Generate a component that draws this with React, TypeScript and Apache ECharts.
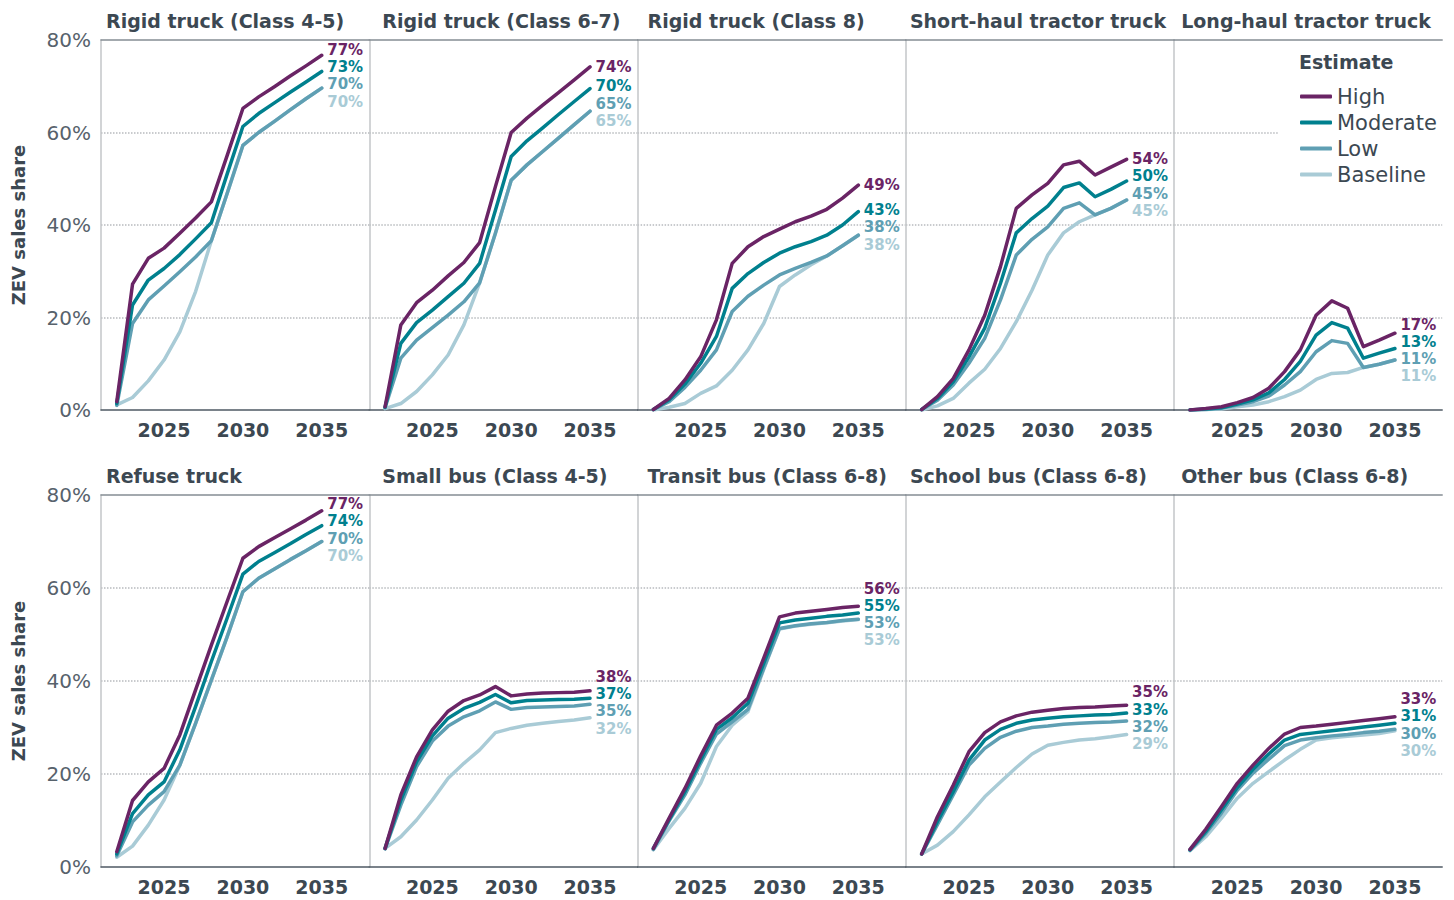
import React, { useEffect, useRef } from "react";
import * as echarts from "echarts";

const FONT = '"DejaVu Sans", Verdana, sans-serif';

const years = [2022, 2023, 2024, 2025, 2026, 2027, 2028, 2029, 2030, 2031, 2032, 2033, 2034, 2035];
const xTickLabels = [2025, 2030, 2035];
const estimates = ["High", "Moderate", "Low", "Baseline"];
const colors = ["#6a2465", "#00808e", "#5f9fb3", "#a9cbd6"];

const panelTitles = [
  "Rigid truck (Class 4-5)",
  "Rigid truck (Class 6-7)",
  "Rigid truck (Class 8)",
  "Short-haul tractor truck",
  "Long-haul tractor truck",
  "Refuse truck",
  "Small bus (Class 4-5)",
  "Transit bus (Class 6-8)",
  "School bus (Class 6-8)",
  "Other bus (Class 6-8)",
];

// Each panel: [High, Moderate, Low, Baseline]
const rigid45 = [
  [1.8, 27.2, 32.8, 35.0, 38.2, 41.5, 45.0, 55.0, 65.2, 67.7, 69.9, 72.2, 74.4, 76.7],
  [1.4, 22.7, 28.1, 30.6, 33.6, 37.0, 40.5, 51.0, 61.3, 64.1, 66.4, 68.7, 70.9, 73.2],
  [1.0, 18.7, 23.8, 26.8, 29.9, 33.1, 36.6, 46.8, 57.2, 60.0, 62.4, 64.9, 67.3, 69.6],
  [1.1, 2.7, 6.3, 10.8, 16.9, 25.6, 36.6, 46.8, 57.2, 60.0, 62.4, 64.9, 67.3, 69.6],
];
const rigid67 = [
  [0.7, 18.4, 23.2, 25.9, 29.0, 31.9, 36.2, 48.3, 60.0, 63.1, 65.9, 68.6, 71.4, 74.2],
  [0.6, 14.4, 18.9, 21.6, 24.5, 27.4, 31.7, 43.2, 54.8, 58.2, 61.0, 63.9, 66.7, 69.5],
  [0.5, 11.2, 15.1, 17.8, 20.5, 23.4, 27.5, 38.2, 49.7, 53.0, 55.9, 58.8, 61.7, 64.6],
  [0.3, 1.4, 4.0, 7.6, 11.9, 18.4, 27.5, 38.2, 49.7, 53.0, 55.9, 58.8, 61.7, 64.6],
];
const rigid8 = [
  [0.1, 2.5, 6.5, 11.5, 19.5, 31.7, 35.3, 37.5, 39.1, 40.7, 41.9, 43.4, 45.8, 48.6],
  [0.1, 2.2, 5.6, 10.1, 15.9, 26.3, 29.5, 31.9, 33.9, 35.3, 36.4, 37.8, 40.0, 42.9],
  [0.1, 1.8, 4.9, 8.6, 13.0, 21.3, 24.6, 27.0, 29.2, 30.6, 31.9, 33.3, 35.5, 37.8],
  [0.0, 0.6, 1.4, 3.6, 5.2, 8.6, 13.0, 18.7, 26.7, 29.2, 31.4, 33.3, 35.5, 37.8],
];
const shortHaul = [
  [0.1, 2.9, 6.8, 13.0, 20.5, 31.0, 43.6, 46.5, 49.0, 53.0, 53.8, 50.8, 52.5, 54.2],
  [0.1, 2.5, 6.1, 11.5, 17.7, 27.4, 38.3, 41.4, 44.1, 48.1, 49.1, 46.1, 47.7, 49.5],
  [0.1, 2.1, 5.4, 10.1, 15.5, 23.8, 33.5, 36.9, 39.6, 43.6, 44.8, 42.2, 43.6, 45.4],
  [0.0, 0.9, 2.5, 5.8, 8.8, 13.3, 19.1, 25.9, 33.5, 38.3, 40.7, 42.2, 43.6, 45.4],
];
const longHaul = [
  [0.0, 0.3, 0.7, 1.6, 2.7, 4.7, 8.3, 13.0, 20.5, 23.6, 22.0, 13.7, 15.1, 16.6],
  [0.0, 0.2, 0.5, 1.3, 2.2, 3.7, 6.6, 10.5, 16.2, 18.9, 17.7, 11.2, 12.3, 13.3],
  [0.0, 0.1, 0.4, 1.1, 1.8, 3.0, 5.4, 8.3, 12.6, 15.0, 14.4, 9.2, 9.9, 10.8],
  [0.0, 0.1, 0.2, 0.7, 1.1, 1.8, 2.9, 4.3, 6.6, 7.9, 8.1, 9.2, 9.9, 10.8],
];
const refuse = [
  [3.3, 14.3, 18.3, 21.2, 28.4, 38.1, 47.7, 57.1, 66.4, 68.9, 70.8, 72.7, 74.6, 76.6],
  [2.8, 11.5, 15.5, 18.3, 25.2, 34.5, 44.2, 53.5, 63.0, 65.7, 67.6, 69.5, 71.5, 73.4],
  [2.4, 9.7, 13.3, 16.2, 21.9, 30.9, 40.2, 49.5, 59.2, 62.1, 64.1, 66.1, 68.0, 70.0],
  [2.1, 4.5, 9.0, 14.4, 21.9, 30.9, 40.2, 49.5, 59.2, 62.1, 64.1, 66.1, 68.0, 70.0],
];
const smallBus = [
  [4.0, 15.5, 23.7, 29.5, 33.5, 35.8, 37.0, 38.8, 36.8, 37.2, 37.4, 37.5, 37.6, 37.9],
  [4.0, 14.4, 22.6, 28.2, 32.0, 34.1, 35.4, 37.1, 35.3, 35.8, 35.9, 36.0, 36.1, 36.3],
  [3.9, 13.3, 21.6, 27.1, 30.3, 32.3, 33.6, 35.5, 33.9, 34.3, 34.4, 34.5, 34.6, 35.0],
  [4.0, 6.5, 10.1, 14.4, 19.1, 22.3, 25.2, 28.9, 29.8, 30.5, 30.9, 31.3, 31.6, 32.1],
];
const transitBus = [
  [4.0, 10.5, 16.9, 23.9, 30.5, 33.1, 36.3, 44.9, 53.8, 54.6, 55.0, 55.4, 55.8, 56.1],
  [4.0, 10.2, 16.2, 23.0, 29.6, 32.1, 35.2, 43.8, 52.5, 53.1, 53.5, 53.9, 54.2, 54.6],
  [3.8, 9.9, 15.5, 22.3, 28.6, 31.2, 33.9, 42.7, 51.3, 51.9, 52.3, 52.6, 53.0, 53.3],
  [3.7, 8.3, 12.6, 18.0, 25.9, 30.5, 33.4, 42.5, 51.2, 51.8, 52.2, 52.5, 52.9, 53.2],
];
const schoolBus = [
  [2.8, 10.8, 17.6, 24.8, 28.9, 31.2, 32.5, 33.3, 33.7, 34.1, 34.3, 34.4, 34.6, 34.8],
  [2.8, 9.8, 16.2, 23.0, 27.3, 29.6, 30.9, 31.6, 32.0, 32.3, 32.5, 32.7, 32.8, 33.1],
  [2.8, 9.1, 15.5, 21.9, 25.5, 27.9, 29.2, 30.0, 30.3, 30.7, 30.9, 31.1, 31.2, 31.4],
  [2.8, 4.7, 7.6, 11.2, 15.1, 18.3, 21.4, 24.3, 26.2, 26.8, 27.3, 27.6, 28.0, 28.5],
];
const otherBus = [
  [3.8, 8.1, 13.0, 18.0, 21.9, 25.5, 28.6, 30.0, 30.3, 30.7, 31.1, 31.5, 31.9, 32.3],
  [3.7, 7.6, 12.3, 17.1, 21.0, 24.3, 27.3, 28.5, 28.9, 29.3, 29.7, 30.1, 30.5, 30.9],
  [3.6, 7.2, 11.6, 16.5, 20.2, 23.2, 26.1, 27.3, 27.8, 28.2, 28.5, 28.9, 29.2, 29.6],
  [3.5, 6.5, 10.5, 14.8, 18.0, 20.5, 23.0, 25.3, 27.3, 27.8, 28.1, 28.4, 28.7, 29.3],
];

const panelData = [rigid45, rigid67, rigid8, shortHaul, longHaul, refuse, smallBus, transitBus, schoolBus, otherBus];

// 2035 end-label values as printed
const endLabels = [
  [77, 73, 70, 70],
  [74, 70, 65, 65],
  [49, 43, 38, 38],
  [54, 50, 45, 45],
  [17, 13, 11, 11],
  [77, 74, 70, 70],
  [38, 37, 35, 32],
  [56, 55, 53, 53],
  [35, 33, 32, 29],
  [33, 31, 30, 30],
];

const titleOffsets = [5, 13, 10, 4, 7];

// cluster-based label de-overlap, in value units (descending values)
function spreadLabels(ends: number[], gap: number): number[] {
  let clusters = ends.map((v, i) => ({ ids: [i], mean: -v }));
  let merged = true;
  while (merged) {
    merged = false;
    for (let i = 0; i < clusters.length - 1; i++) {
      const a = clusters[i];
      const b = clusters[i + 1];
      const aBottom = a.mean + ((a.ids.length - 1) * gap) / 2;
      const bTop = b.mean - ((b.ids.length - 1) * gap) / 2;
      if (bTop - aBottom < gap) {
        const ids = a.ids.concat(b.ids);
        const mean = ids.reduce((s, id) => s - ends[id], 0) / ids.length;
        clusters.splice(i, 2, { ids, mean });
        merged = true;
        break;
      }
    }
  }
  const out: number[] = new Array(ends.length);
  clusters.forEach((c) => {
    c.ids.forEach((id, k) => {
      out[id] = -(c.mean + (k - (c.ids.length - 1) / 2) * gap);
    });
  });
  return out;
}

export default function App() {
  const ref = useRef<HTMLDivElement>(null);
  useEffect(() => {
    if (!ref.current) return;
    const chart = echarts.init(ref.current, undefined, { renderer: "svg" });

    const grids: any[] = [];
    const xAxes: any[] = [];
    const yAxes: any[] = [];
    const series: any[] = [];
    const titles: any[] = [];

    panelData.forEach((panel, k) => {
      const r = Math.floor(k / 5);
      const c = k % 5;
      const left = 101 + c * 268.3;
      const top = r === 0 ? 40 : 495;
      const height = r === 0 ? 370 : 372;
      grids.push({ left, top, width: 268, height, containLabel: false });

      xAxes.push({
        type: "value",
        gridIndex: k,
        min: 2021,
        max: 2038,
        axisLine: { show: true, onZero: false, lineStyle: { color: "#4f5a64", width: 1.5 } },
        axisTick: { show: false },
        splitLine: { show: false },
        axisLabel: {
          customValues: xTickLabels,
          formatter: (v: number) => String(v),
          fontSize: 19,
          fontWeight: "bold",
          color: "#3c4852",
          margin: 10,
          fontFamily: FONT,
        },
      });
      xAxes.push({
        type: "value",
        gridIndex: k,
        position: "top",
        min: 2021,
        max: 2038,
        axisLine: { show: true, onZero: false, lineStyle: { color: "#858d94", width: 1.5 } },
        axisTick: { show: false },
        splitLine: { show: false },
        axisLabel: { show: false },
      });
      yAxes.push({
        type: "value",
        gridIndex: k,
        min: 0,
        max: 80,
        interval: 20,
        name: c === 0 ? "ZEV sales share" : "",
        nameLocation: "middle",
        nameGap: 74,
        nameTextStyle: { fontSize: 18, fontWeight: "bold", color: "#3c4852", fontFamily: FONT },
        axisLine: { show: true, onZero: false, lineStyle: { color: "#c3c6c9", width: 1.5 } },
        axisTick: { show: false },
        axisLabel: {
          show: c === 0,
          formatter: "{value}%",
          fontSize: 20,
          color: "#57626c",
          margin: 10,
          fontFamily: FONT,
        },
        splitLine: {
          show: true,
          showMinLine: false,
          showMaxLine: false,
          lineStyle: { type: "dotted", color: "#b8bbbe", width: 1.5 },
        },
      });

      // draw baseline first so darker lines are on top
      [3, 2, 1, 0].forEach((s) => {
        series.push({
          name: estimates[s],
          type: "line",
          xAxisIndex: 2 * k,
          yAxisIndex: k,
          data: years.map((yr, i) => [yr, panel[s][i]]),
          showSymbol: false,
          symbol: "none",
          lineStyle: { color: colors[s], width: 3.5, cap: "round", join: "round" },
          itemStyle: { color: colors[s] },
          silent: true,
          z: 2,
        });
      });

      const ends = panel.map((arr) => arr[arr.length - 1]);
      const gap = 17.3 / (height / 80);
      const pos = spreadLabels(ends, gap);
      series.push({
        type: "scatter",
        xAxisIndex: 2 * k,
        yAxisIndex: k,
        symbolSize: 1,
        itemStyle: { color: "transparent", opacity: 1 },
        silent: true,
        z: 3,
        data: pos.map((p, s) => ({
          value: [years[years.length - 1], p],
          label: {
            show: true,
            position: "right",
            distance: 5,
            formatter: endLabels[k][s] + "%",
            color: colors[s],
            opacity: 1,
            fontSize: 15,
            fontWeight: "bold",
            fontFamily: FONT,
          },
        })),
      });

      titles.push({
        text: panelTitles[k],
        left: left + titleOffsets[c],
        top: r === 0 ? 11 : 466,
        padding: 0,
        textStyle: { fontSize: 19, fontWeight: "bold", color: "#3c4852", fontFamily: FONT },
      });
    });

    titles.push({
      text: "Estimate",
      left: 1299,
      top: 52,
      padding: 0,
      textStyle: { fontSize: 19, fontWeight: "bold", color: "#3c4852", fontFamily: FONT },
    });

    chart.setOption({
      animation: false,
      textStyle: { fontFamily: FONT },
      title: titles,
      grid: grids,
      xAxis: xAxes,
      yAxis: yAxes,
      legend: {
        data: estimates,
        orient: "vertical",
        left: 1278,
        top: 45,
        padding: [41, 8, 8, 22],
        backgroundColor: "#ffffff",
        icon: "roundRect",
        itemWidth: 32,
        itemHeight: 4,
        itemGap: 5,
        selectedMode: false,
        textStyle: { fontSize: 21, color: "#3c4852", lineHeight: 20, fontFamily: FONT },
      },
      series,
    });

    return () => chart.dispose();
  }, []);

  return (
    <div
      ref={ref}
      style={{ position: "fixed", left: 0, top: 0, width: 1454, height: 900, background: "#fff" }}
    />
  );
}
